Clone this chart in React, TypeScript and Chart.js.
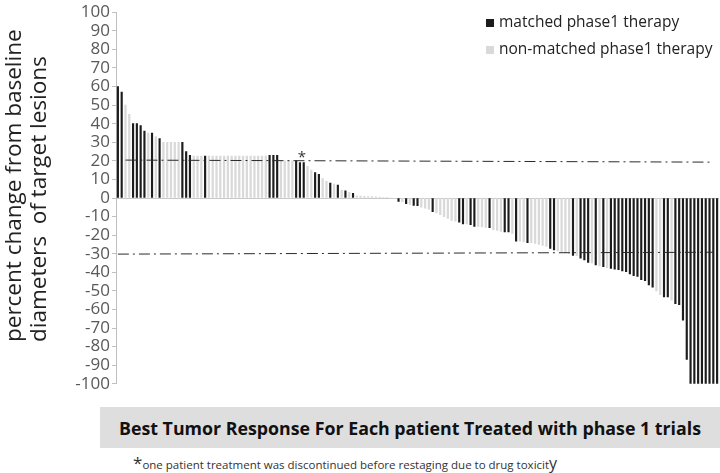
import React, { useEffect, useRef } from "react";
import { Chart, registerables } from "chart.js";

Chart.register(...registerables);

// Best response per patient (percent change), ordered as in the waterfall
const responses: number[] = [
  60, 57, 50, 45, 40, 40, 39, 36, 35, 35, 33, 32, 30, 30, 30, 30, 30, 30, 25, 23,
  22.5, 22.5, 22.5, 22.5, 22.5, 22.5, 22.5, 22.5, 22.5, 22.5, 22.5, 22.5, 22.5, 22.5, 22.5, 22.5, 22.5, 22.5, 22.5, 22.5,
  23, 23, 23, 20, 20, 20, 20, 20, 19, 19, 17, 15, 13.7, 12.8, 10.5, 9, 8, 7.5, 7, 4.3,
  3.8, 3, 2.5, 1.2, 1, 0.9, 0.8, 0.7, 0.6, 0.5, 0.4, 0.3, 0, -0.4, -1.9, -2, -3, -3.5, -4, -4.1,
  -5, -5.5, -6, -7.3, -8, -9, -10, -11, -12, -12.5, -13, -13.9, -14, -14.4, -15.3, -15.3, -15.5, -15.8, -16, -17,
  -17.5, -18, -18.3, -18.3, -19, -23.2, -23.2, -23.5, -24.1, -24.1, -24.5, -25, -25.5, -26, -27.1, -28, -28.5, -29, -29.5, -30,
  -30.9, -31, -32.4, -33.3, -34.7, -35, -36, -36.5, -36.9, -37.5, -37.9, -38.3, -38.6, -39.2, -39.7, -40.9, -41.8, -42.2, -43.9, -44.5,
  -46.8, -48, -50, -52, -53.3, -53.3, -55, -56.9, -57.4, -65.7, -86.9, -100, -100, -100, -100, -100, -100, -100, -100,
];

// 1 = matched phase1 therapy, 0 = non-matched phase1 therapy
const matchedFlags: number[] = [
  1, 1, 0, 0, 1, 1, 1, 1, 0, 1, 0, 1, 0, 0, 0, 0, 0, 1, 1, 1,
  0, 0, 0, 1, 0, 0, 0, 0, 0, 0, 0, 0, 0, 0, 0, 0, 0, 0, 0, 0,
  1, 1, 1, 0, 0, 0, 0, 1, 1, 1, 0, 0, 1, 1, 0, 0, 1, 0, 1, 0,
  1, 0, 1, 0, 0, 0, 0, 0, 0, 0, 0, 0, 0, 0, 1, 0, 1, 0, 1, 1,
  0, 0, 0, 1, 0, 0, 0, 0, 0, 0, 1, 1, 0, 1, 1, 0, 0, 0, 1, 0,
  0, 0, 1, 1, 0, 1, 0, 0, 1, 0, 0, 0, 0, 0, 1, 1, 0, 0, 0, 0,
  1, 0, 1, 1, 1, 0, 1, 0, 1, 0, 1, 1, 1, 1, 1, 1, 1, 1, 1, 1,
  1, 1, 0, 0, 1, 1, 0, 1, 1, 1, 1, 1, 1, 1, 1, 1, 1, 1, 1,
];

// Reference (dash-dot) lines: [start index, start value, end index, end value]
const progressionLine: number[] = [2, 20.4, 157, 19.3];
const responseLine: number[] = [0, -30.2, 157, -29.2];

// Index of the patient marked with an asterisk
const asteriskIndex = 48;

const yTicks: number[] = [-100, 100, 10];

const seriesLabels: string[] = ["matched phase1 therapy", "non-matched phase1 therapy"];

const DARK = "#1c1c1c";
const LIGHT = "#d9d9d9";
const FONT = "'Open Sans', sans-serif";

function lineData(spec: number[], n: number): (number | null)[] {
  const arr: (number | null)[] = new Array(n).fill(null);
  arr[spec[0]] = spec[1];
  arr[spec[2]] = spec[3];
  return arr;
}

export default function App() {
  const canvasRef = useRef<HTMLCanvasElement | null>(null);

  useEffect(() => {
    document.body.style.margin = "0";
    const canvas = canvasRef.current;
    if (!canvas) return;
    const n = responses.length;
    const labels = responses.map((_, i) => String(i + 1));
    const matchedData = responses.map((v, i) => (matchedFlags[i] ? v : null));
    const otherData = responses.map((v, i) => (matchedFlags[i] ? null : v));

    const asteriskPlugin = {
      id: "asterisk",
      afterDatasetsDraw(chart: any) {
        const xs = chart.scales.x;
        const ys = chart.scales.y;
        const x = (xs.getPixelForValue(asteriskIndex) + xs.getPixelForValue(asteriskIndex + 1)) / 2;
        const y = ys.getPixelForValue(responses[asteriskIndex]);
        const ctx = chart.ctx;
        ctx.save();
        ctx.fillStyle = "#333";
        ctx.font = `15px ${FONT}`;
        ctx.textAlign = "center";
        ctx.textBaseline = "middle";
        ctx.fillText("*", x, y - 5);
        ctx.restore();
      },
    };

    const chart = new Chart(canvas, {
      type: "bar",
      data: {
        labels,
        datasets: [
          {
            type: "line" as any,
            label: "progression",
            data: lineData(progressionLine, n),
            borderColor: "#2a2a2a",
            borderWidth: 1,
            borderDash: [11, 4, 2, 4],
            pointRadius: 0,
            spanGaps: true,
            fill: false,
            order: 0,
          } as any,
          {
            type: "line" as any,
            label: "response",
            data: lineData(responseLine, n),
            borderColor: "#2a2a2a",
            borderWidth: 1,
            borderDash: [11, 4, 2, 4],
            pointRadius: 0,
            spanGaps: true,
            fill: false,
            order: 0,
          } as any,
          {
            label: seriesLabels[0],
            data: matchedData,
            backgroundColor: DARK,
            barThickness: 1.5,
            grouped: false,
            order: 1,
          } as any,
          {
            label: seriesLabels[1],
            data: otherData,
            backgroundColor: LIGHT,
            barThickness: 1.6,
            grouped: false,
            order: 2,
          } as any,
        ],
      },
      options: {
        responsive: false,
        animation: false,
        devicePixelRatio: 1,
        layout: { padding: { top: 8, bottom: 10, left: 0, right: 1 } },
        plugins: {
          legend: { display: false },
          tooltip: { enabled: false },
        },
        scales: {
          x: {
            display: false,
            offset: true,
          },
          y: {
            min: yTicks[0],
            max: yTicks[1],
            afterFit(scale: any) {
              scale.width = 116;
            },
            ticks: {
              stepSize: yTicks[2],
              autoSkip: false,
              color: "#595959",
              font: { family: FONT, size: 17 },
              padding: 2,
            },
            border: { color: "#bfbfbf", width: 1 },
            grid: {
              drawOnChartArea: true,
              color: (ctx: any) => (ctx.tick && ctx.tick.value === 0 ? "#c8c8c8" : "rgba(0,0,0,0)"),
              tickColor: "#bfbfbf",
              tickLength: 4,
            },
          },
        },
      },
      plugins: [asteriskPlugin],
    });
    return () => chart.destroy();
  }, []);

  return (
    <div style={{ position: "relative", width: 720, height: 473, background: "#fff", overflow: "hidden", fontFamily: FONT }}>
      <canvas ref={canvasRef} width={720} height={396} style={{ position: "absolute", left: 0, top: 0, width: 720, height: 396 }} />
      <div
        style={{
          position: "absolute",
          left: 0,
          top: 18,
          height: 324,
          writingMode: "vertical-rl",
          transform: "rotate(180deg)",
          fontSize: 22.5,
          lineHeight: "25px",
          color: "#222",
          textAlign: "left",
          whiteSpace: "pre",
        }}
      >
        {"percent change from baseline\ndiameters  of target lesions"}
      </div>
      <div style={{ position: "absolute", left: 486, top: 11, fontSize: 15.5, color: "#222", lineHeight: "20px", whiteSpace: "nowrap" }}>
        <span style={{ display: "inline-block", width: 8, height: 8, background: DARK, marginRight: 5, verticalAlign: "middle" }} />
        {seriesLabels[0]}
      </div>
      <div style={{ position: "absolute", left: 486, top: 38, fontSize: 15.5, color: "#222", lineHeight: "20px", whiteSpace: "nowrap" }}>
        <span style={{ display: "inline-block", width: 8, height: 8, background: LIGHT, marginRight: 5, verticalAlign: "middle" }} />
        {seriesLabels[1]}
      </div>
      <div
        style={{
          position: "absolute",
          left: 100,
          top: 407,
          width: 620,
          height: 41,
          background: "#dedede",
          display: "flex",
          alignItems: "center",
          justifyContent: "center",
          fontWeight: 700,
          fontSize: 17.8,
          color: "#111",
          whiteSpace: "nowrap",
        }}
      >
        Best Tumor Response For Each patient Treated with phase 1 trials
      </div>
      <div style={{ position: "absolute", left: 133, top: 453, color: "#333", whiteSpace: "nowrap", lineHeight: "20px" }}>
        <span style={{ fontSize: 17, verticalAlign: "top" }}>*</span>
        <span style={{ fontSize: 11.5 }}>one patient treatment was discontinued before restaging due to drug toxicit</span>
        <span style={{ fontSize: 16 }}>y</span>
      </div>
    </div>
  );
}
